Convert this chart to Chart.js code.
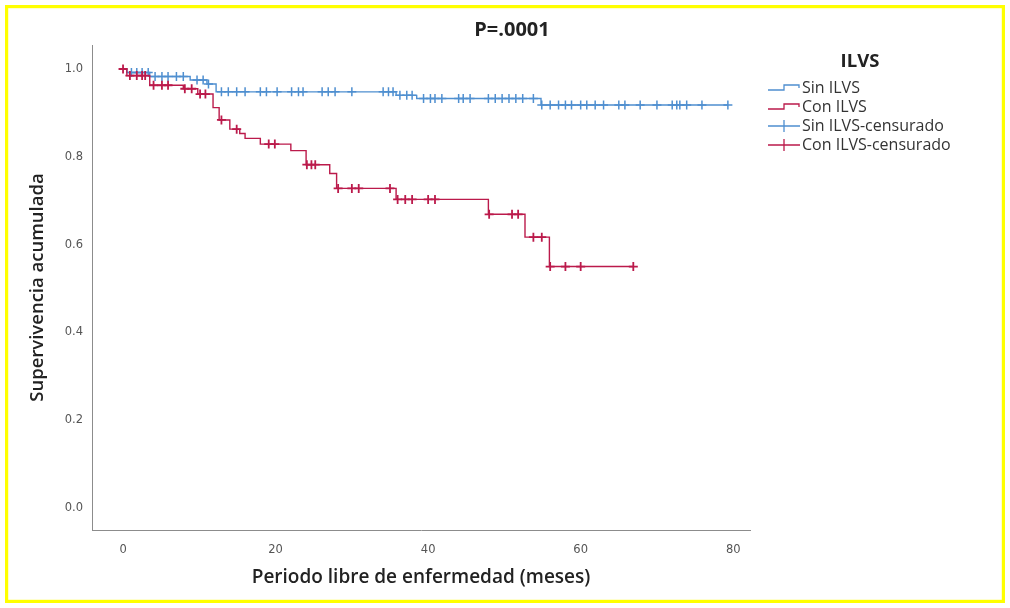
<!DOCTYPE html>
<html>
<head>
<meta charset="utf-8">
<script src="https://cdn.jsdelivr.net/npm/chart.js@4/dist/chart.umd.min.js"></script>
<style>
  html, body { margin: 0; padding: 0; background: #ffffff; }
  #wrap { width: 1010px; height: 608px; position: relative; }
</style>
</head>
<body>
<div id="wrap"><canvas id="c" width="1010" height="608"></canvas></div>
<script>
// ---- Data ----
const chartTitle = "P=.0001";
const legendTitle = "ILVS";
const seriesNames = ["Sin ILVS", "Con ILVS", "Sin ILVS-censurado", "Con ILVS-censurado"];
const xAxisTitle = "Periodo libre de enfermedad (meses)";
const yAxisTitle = "Supervivencia acumulada";
const xTickValues = [0, 20, 40, 60, 80];
const yTickValues = [0.0, 0.2, 0.4, 0.6, 0.8, 1.0];

// Sin ILVS: step times (months) and survival after each step
const sinTimes = [0, 0.5, 3.5, 8.8, 11.0, 12.2, 35.8, 38.5, 54.8, 79.3];
const sinSurv  = [1.0, 0.992, 0.983, 0.975, 0.966, 0.948, 0.940, 0.933, 0.918, 0.918];

// Con ILVS
const conTimes = [0, 0.5, 3.5, 7.9, 9.8, 11.8, 12.6, 14.0, 15.3, 16.0, 18.0, 22.0, 24.0, 27.1, 28.0, 35.8, 47.9, 52.7, 55.9, 66.9];
const conSurv  = [1.0, 0.985, 0.963, 0.955, 0.943, 0.912, 0.884, 0.863, 0.853, 0.842, 0.829, 0.814, 0.782, 0.762, 0.728, 0.703, 0.669, 0.617, 0.550, 0.550];

// Censored times
const sinCensored = [1.1, 1.8, 2.5, 3.3, 4.2, 5.1, 5.9, 7.0, 7.9, 9.7, 10.5, 11.2,
  12.9, 13.8, 14.9, 16.0, 18.0, 18.8, 20.2, 22.1, 23.0, 23.6, 26.1, 26.9, 27.8, 30.0,
  34.1, 34.8, 35.4, 36.3, 37.2, 37.9, 39.4, 40.3, 40.9, 41.8, 44.0, 44.6, 45.5,
  47.9, 48.8, 49.7, 50.6, 51.5, 52.4, 53.8, 54.9, 56.0, 57.1, 58.0, 58.8, 60.0,
  60.8, 61.9, 63.0, 65.0, 65.8, 67.8, 70.0, 72.0, 72.6, 73.0, 73.9, 75.9, 79.3];
const conCensored = [0, 0.9, 1.8, 2.5, 2.9, 4.0, 5.1, 5.9, 8.1, 9.0, 10.1, 10.8,
  12.9, 14.9, 19.1, 19.9, 24.1, 24.7, 25.2, 28.2, 30.0, 30.9, 35.0, 36.0, 37.0, 37.9,
  40.0, 40.9, 48.0, 51.0, 51.8, 53.8, 54.9, 56.0, 58.0, 60.0, 66.9];

// ---- Styling ----
const blue = '#4f8fd0';
const red = '#bb1a4b';

function survAt(times, surv, t) {
  let s = surv[0];
  for (let i = 0; i < times.length; i++) { if (times[i] <= t) s = surv[i]; }
  return s;
}
const toPts = (times, surv) => times.map((t, i) => ({ x: t, y: surv[i] }));
const censPts = (cens, times, surv) => cens.map(t => ({ x: t, y: survAt(times, surv, t) }));

const legendPlugin = {
  id: 'customDecor',
  afterDraw(chart) {
    const ctx = chart.ctx;
    ctx.save();
    // title
    ctx.fillStyle = '#222';
    ctx.font = 'bold 20px "Open Sans"';
    ctx.textAlign = 'center';
    ctx.textBaseline = 'middle';
    ctx.fillText(chartTitle, 512, 30);
    // legend title
    ctx.font = 'bold 18.5px "Open Sans"';
    ctx.fillText(legendTitle, 860, 62);
    // legend items
    const ys = [88, 107, 126, 145];
    const cols = [blue, red, blue, red];
    ctx.font = '16px "Open Sans"';
    ctx.textAlign = 'left';
    for (let i = 0; i < 4; i++) {
      const y = ys[i];
      ctx.strokeStyle = cols[i];
      ctx.lineWidth = 1.3;
      ctx.beginPath();
      if (i < 2) {
        ctx.moveTo(768, y + 2); ctx.lineTo(784, y + 2); ctx.lineTo(784, y - 3);
        ctx.lineTo(799, y - 3); ctx.lineTo(799, y);
      } else {
        ctx.moveTo(768, y); ctx.lineTo(800, y);
        ctx.moveTo(784, y - 6); ctx.lineTo(784, y + 6);
      }
      ctx.stroke();
      ctx.fillStyle = '#333';
      ctx.fillText(seriesNames[i], 802, y);
    }
    // yellow frame
    ctx.strokeStyle = '#ffff00';
    ctx.lineWidth = 3.2;
    ctx.strokeRect(6.6, 6.6, 1010 - 13.2, 608 - 13.2);
    ctx.restore();
  }
};

new Chart(document.getElementById('c'), {
  type: 'line',
  data: {
    datasets: [
      { label: seriesNames[0], data: toPts(sinTimes, sinSurv), stepped: 'before',
        borderColor: blue, borderWidth: 1.4, pointRadius: 0, fill: false, order: 2 },
      { label: seriesNames[1], data: toPts(conTimes, conSurv), stepped: 'before',
        borderColor: red, borderWidth: 1.4, pointRadius: 0, fill: false, order: 1 },
      { label: seriesNames[2], data: censPts(sinCensored, sinTimes, sinSurv), showLine: false,
        pointStyle: 'cross', pointRadius: 4.5, pointBorderWidth: 1.5, borderColor: blue, pointBorderColor: blue, order: 2 },
      { label: seriesNames[3], data: censPts(conCensored, conTimes, conSurv), showLine: false,
        pointStyle: 'cross', pointRadius: 4.5, pointBorderWidth: 1.8, borderColor: red, pointBorderColor: red, order: 1 }
    ]
  },
  options: {
    responsive: false,
    animation: false,
    events: [],
    layout: { padding: { left: 0, right: 260, top: 45, bottom: 0 } },
    plugins: { legend: { display: false }, tooltip: { enabled: false }, title: { display: false } },
    scales: {
      x: {
        type: 'linear', min: -4.07, max: 82.2,
        afterBuildTicks: s => { s.ticks = xTickValues.map(v => ({ value: v })); },
        afterFit: s => { s.height = 78; },
        grid: { display: false, drawTicks: false },
        border: { display: true, color: '#8c8c8c', width: 1 },
        ticks: { padding: 13, color: '#555', font: { family: 'DejaVu Sans', size: 11.5 }, maxRotation: 0,
                 callback: v => String(v) },
        title: { display: true, text: xAxisTitle, color: '#222',
                 font: { family: 'Open Sans', size: 19, weight: '600' }, padding: { top: 0, bottom: 19 } }
      },
      y: {
        type: 'linear', min: -0.0501, max: 1.0547,
        afterBuildTicks: s => { s.ticks = yTickValues.map(v => ({ value: v })); },
        afterFit: s => { s.width = 92; },
        grid: { display: false, drawTicks: false },
        border: { display: true, color: '#8c8c8c', width: 1 },
        ticks: { padding: 9, color: '#555', font: { family: 'DejaVu Sans', size: 11.5 },
                 callback: v => Number(v).toFixed(1) },
        title: { display: true, text: yAxisTitle, color: '#222',
                 font: { family: 'Open Sans', size: 18.5, weight: '600' }, padding: { top: 27, bottom: 0 } }
      }
    }
  },
  plugins: [legendPlugin]
});
</script>
</body>
</html>
